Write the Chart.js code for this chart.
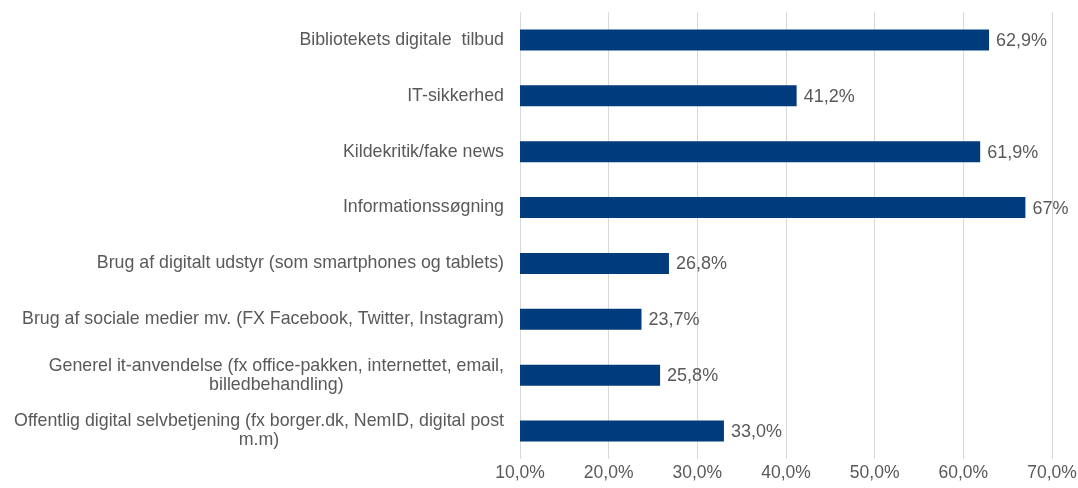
<!DOCTYPE html>
<html>
<head>
<meta charset="utf-8">
<script src="https://cdn.jsdelivr.net/npm/chart.js@4"></script>
<style>
html,body{margin:0;padding:0;background:#fff;}
#wrap{width:1078px;height:488px;}
</style>
</head>
<body>
<div id="wrap"><canvas id="c" width="1078" height="488"></canvas></div>
<script>
const categories = [
  ["Bibliotekets digitale  tilbud"],
  ["IT-sikkerhed"],
  ["Kildekritik/fake news"],
  ["Informationssøgning"],
  ["Brug af digitalt udstyr (som smartphones og tablets)"],
  ["Brug af sociale medier mv. (FX Facebook, Twitter, Instagram)"],
  ["Generel it-anvendelse (fx office-pakken, internettet, email,", "billedbehandling)"],
  ["Offentlig digital selvbetjening (fx borger.dk, NemID, digital post", "m.m)"]
];
const values = [62.9, 41.2, 61.9, 67, 26.8, 23.7, 25.8, 33.0];
const valueLabels = ["62,9%", "41,2%", "61,9%", "67%", "26,8%", "23,7%", "25,8%", "33,0%"];
const tickLabels = ["10,0%", "20,0%", "30,0%", "40,0%", "50,0%", "60,0%", "70,0%"];

const FONT = '"Liberation Sans", Arial, sans-serif';
const TXT = '#595959';

const labelPlugin = {
  id: 'customLabels',
  afterDatasetsDraw(chart) {
    const ctx = chart.ctx;
    const meta = chart.getDatasetMeta(0);
    const yScale = chart.scales.y;
    ctx.save();
    ctx.font = '18px ' + FONT;
    ctx.fillStyle = TXT;
    ctx.textBaseline = 'middle';
    meta.data.forEach((bar, i) => {
      ctx.textAlign = 'left';
      ctx.fillText(valueLabels[i], bar.x + 7, bar.y + 1);
    });
    ctx.font = '17.8px ' + FONT;
    const rightEdge = yScale.right - 16;
    categories.forEach((lines, i) => {
      const yc = yScale.getPixelForValue(i);
      const maxW = Math.max(...lines.map(l => ctx.measureText(l).width));
      const lh = 19;
      const y0 = yc - (lines.length - 1) * lh / 2;
      lines.forEach((l, j) => {
        ctx.textAlign = lines.length > 1 ? 'center' : 'right';
        const x = lines.length > 1 ? rightEdge - maxW / 2 : rightEdge;
        ctx.fillText(l, x, y0 + j * lh);
      });
    });
    ctx.restore();
  }
};

new Chart(document.getElementById('c'), {
  type: 'bar',
  data: {
    labels: categories.map(c => c.join(' ')),
    datasets: [{
      data: values,
      backgroundColor: '#003c7b',
      borderWidth: 0,
      barPercentage: 0.75,
      categoryPercentage: 0.5
    }]
  },
  options: {
    indexAxis: 'y',
    responsive: false,
    animation: false,
    devicePixelRatio: 1,
    layout: { padding: { top: 12, right: 26, bottom: 0, left: 0 } },
    plugins: { legend: { display: false }, tooltip: { enabled: false } },
    scales: {
      x: {
        min: 10, max: 70,
        ticks: {
          stepSize: 10,
          color: TXT,
          font: { family: FONT, size: 17.5 },
          padding: 4,
          callback: (v) => tickLabels[Math.round((v - 10) / 10)]
        },
        grid: { color: '#d9d9d9', drawTicks: false, lineWidth: 1 },
        border: { display: false },
        afterFit(scale) { scale.paddingRight = 0; scale.paddingLeft = 0; }
      },
      y: {
        ticks: { display: false },
        grid: { display: false, drawTicks: false },
        border: { display: false },
        afterFit(scale) { scale.width = 520; }
      }
    }
  },
  plugins: [labelPlugin]
});
</script>
</body>
</html>
